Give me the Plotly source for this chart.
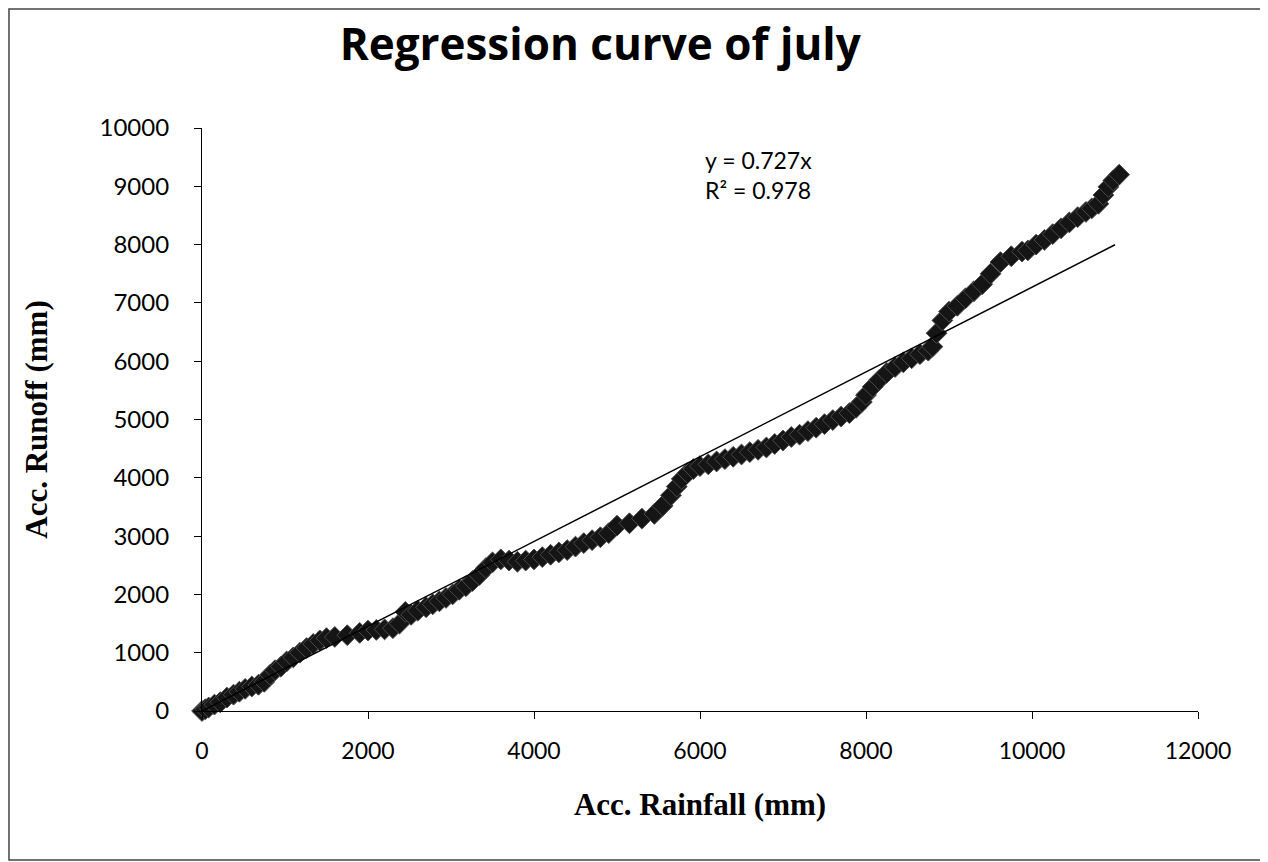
import plotly.graph_objects as go

# Accumulated rainfall (mm) and runoff (mm)
rain = [0, 40, 80, 150, 220, 300, 380, 450, 520, 600, 680, 750, 820, 880, 950,
        1020, 1100, 1180, 1260, 1340, 1420, 1500, 1600, 1750, 1900, 2000, 2100,
        2200, 2300, 2380, 2450, 2520, 2600, 2700, 2780, 2860, 2940, 3020, 3100,
        3180, 3260, 3340, 3420, 3500, 3600, 3700, 3800, 3900, 4000, 4100, 4200,
        4300, 4400, 4500, 4600, 4700, 4800, 4900, 5000, 5150, 5300, 5450, 5550,
        5650, 5720, 5780, 5850, 5920, 6000, 6100, 6200, 6300, 6400, 6500, 6600,
        6700, 6800, 6900, 7000, 7100, 7200, 7300, 7400, 7500, 7600, 7700, 7800,
        7880, 7950, 8000, 8080, 8160, 8250, 8350, 8450, 8550, 8650, 8750, 8800,
        8850, 8920, 9000, 9100, 9200, 9300, 9400, 9500, 9620, 9750, 9880, 9950,
        10050, 10150, 10250, 10350, 10450, 10550, 10650, 10720, 10800, 10860,
        10920, 10980, 11050]
runoff = [0, 30, 60, 110, 150, 230, 280, 330, 380, 420, 450, 500, 620, 700, 760,
          850, 920, 1000, 1080, 1150, 1210, 1250, 1270, 1300, 1340, 1380, 1390,
          1400, 1420, 1500, 1700, 1650, 1720, 1780, 1830, 1880, 1940, 2000, 2080,
          2140, 2230, 2330, 2450, 2550, 2600, 2580, 2560, 2580, 2600, 2640, 2680,
          2720, 2760, 2820, 2880, 2930, 2980, 3050, 3180, 3220, 3300, 3380, 3520,
          3700, 3850, 3980, 4080, 4150, 4200, 4230, 4280, 4320, 4360, 4400, 4440,
          4480, 4520, 4580, 4640, 4700, 4740, 4800, 4860, 4920, 4990, 5050, 5110,
          5200, 5300, 5420, 5560, 5680, 5800, 5900, 5980, 6050, 6120, 6180, 6250,
          6480, 6700, 6850, 6950, 7080, 7200, 7320, 7500, 7700, 7800, 7880, 7900,
          8000, 8080, 8180, 8280, 8380, 8470, 8560, 8620, 8700, 8850, 8990, 9100,
          9200]

slope = 0.727
r2 = 0.978
trend_x = [0, 11000]
trend_y = [slope * v for v in trend_x]

x_ticks = [0, 2000, 4000, 6000, 8000, 10000, 12000]
x_labels = ["0", "2000", "4000", "6000", "8000", "10000", "12000"]
y_ticks = [0, 1000, 2000, 3000, 4000, 5000, 6000, 7000, 8000, 9000, 10000]
y_labels = ["0", "1000", "2000", "3000", "4000", "5000", "6000", "7000", "8000",
            "9000", "10000"]

fig = go.Figure()
fig.add_trace(go.Scatter(
    x=rain, y=runoff, mode="markers",
    marker=dict(symbol="diamond", size=16, color="#151515",
                line=dict(color="#4a4a4a", width=1)),
    cliponaxis=False, showlegend=False))
fig.add_trace(go.Scatter(
    x=trend_x, y=trend_y, mode="lines",
    line=dict(color="black", width=1.5), showlegend=False))

fig.update_layout(
    width=1260, height=854,
    paper_bgcolor="white", plot_bgcolor="white",
    margin=dict(l=194, r=70, t=120, b=151),
    title=dict(text="<b>Regression curve of july</b>", x=0.47, xanchor="center",
               y=0.957, yanchor="middle",
               font=dict(family="Open Sans", size=44, color="black")),
    xaxis=dict(range=[0, 12000], tickvals=x_ticks, ticktext=x_labels,
               ticks="outside", ticklen=7, ticklabelstandoff=12,
               tickcolor="black", showline=True, linecolor="black", linewidth=1.2,
               showgrid=False, zeroline=False,
               tickfont=dict(family="Lato", size=23, color="black"),
               title=dict(text="<b>Acc. Rainfall (mm)</b>", standoff=30,
                          font=dict(family="Liberation Serif", size=31, color="black"))),
    yaxis=dict(range=[0, 10000], tickvals=y_ticks, ticktext=y_labels,
               ticks="outside", ticklen=7, ticklabelstandoff=20,
               tickcolor="black", showline=True, linecolor="black", linewidth=1.2,
               showgrid=False, zeroline=False,
               tickfont=dict(family="Lato", size=24, color="black"),
               title=dict(text="<b>Acc. Runoff (mm)</b>", standoff=42,
                          font=dict(family="Liberation Serif", size=31, color="black"))),
    shapes=[dict(type="rect", xref="paper", yref="paper",
                 x0=-0.1938, x1=1.0673, y0=-0.2556, y1=1.2041,
                 line=dict(color="#444444", width=1.5))],
    annotations=[dict(text=f"y = {slope}x<br>R² = {r2}", xref="paper", yref="paper",
                      x=0.503, y=0.92, xanchor="left", yanchor="middle",
                      align="left", showarrow=False,
                      font=dict(family="Lato", size=23, color="black"))],
)

fig.write_html("out.html")
